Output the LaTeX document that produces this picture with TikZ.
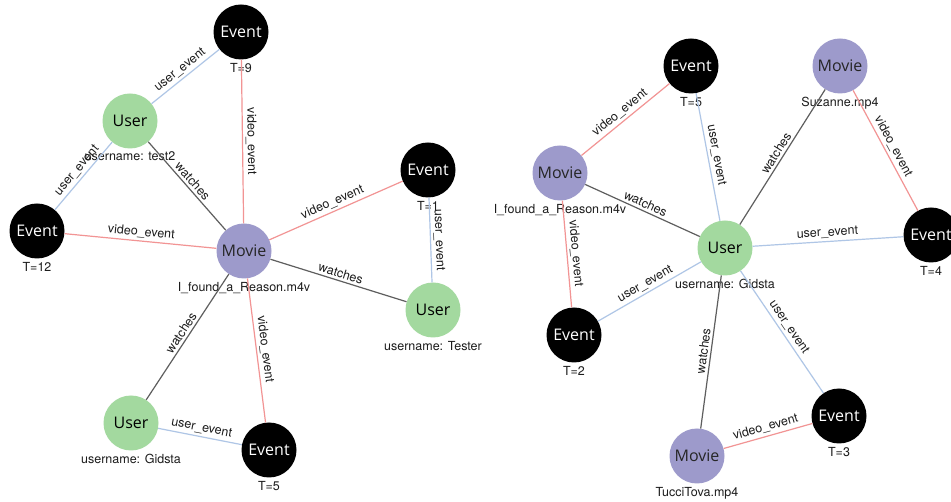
\documentclass[tikz,border=0pt]{standalone}
\usepackage{fontspec}
\setmainfont{TeX Gyre Heros}
\newfontfamily\circfont{Open Sans}
\usepackage{tikz}
\definecolor{usergreen}{HTML}{A3D99F}
\definecolor{moviepurple}{HTML}{9D9ACB}
\definecolor{vidred}{HTML}{F29494}
\definecolor{ublue}{HTML}{AFC6E6}
\definecolor{watchgray}{HTML}{5E5E5E}
\definecolor{txtgray}{HTML}{1C1C1C}

\begin{document}
\begin{tikzpicture}[x=1pt, y=-1pt,
		vertex/.style={circle, minimum size=55pt, inner sep=0pt, font=\circfont\fontsize{16}{16}\selectfont},
		user/.style={vertex, fill=usergreen, text=black},
		movie/.style={vertex, fill=moviepurple, text=black!85},
		event/.style={vertex, fill=black, text=white},
		uev/.style={draw=ublue, line width=1.2pt},
		vev/.style={draw=vidred, line width=1.2pt},
		wat/.style={draw=watchgray, line width=1.2pt},
		elab/.style={font=\fontsize{12.5}{12.5}\selectfont, text=txtgray, sloped, above, midway, inner sep=2.5pt},
		every label/.style={font=\fontsize{12.5}{12.5}\selectfont, text=txtgray, inner sep=1pt},
		label distance=2pt]
			\useasboundingbox (0,0) rectangle (951,502);
			\fill[white] (0,0) rectangle (951,502);

			\node[event, label={below:T=9}] (evnine) at (241,32) {Event};
			\node[user, label={below:username: test2}] (utest) at (130,121) {User};
			\node[event, label={below:T=12}] (evtwelve) at (37,231) {Event};
			\node[movie, label={below:I\_found\_a\_Reason.m4v}] (mreason) at (244,251) {Movie};
			\node[event, label={below:T=1}] (evone) at (428,170) {Event};
			\node[user, label={below:username: Tester}] (utester) at (433,310) {User};
			\node[user, label={below:username: Gidsta}] (ugidsta) at (131,423) {User};
			\node[event, label={below:T=5}] (evfive) at (269,450) {Event};

			\draw[uev] (evnine) -- node[elab] {user\_event} (utest);
			\draw[vev] (evnine) -- node[elab] {video\_event} (mreason);
			\draw[uev] (utest) -- node[elab] {user\_event} (evtwelve);
			\draw[wat] (utest) -- node[elab] {watches} (mreason);
			\draw[vev] (evtwelve) -- node[elab] {video\_event} (mreason);
			\draw[vev] (mreason) -- node[elab] {video\_event} (evone);
			\draw[wat] (mreason) -- node[elab] {watches} (utester);
			\draw[uev] (evone) -- node[elab] {user\_event} (utester);
			\draw[wat] (mreason) -- node[elab] {watches} (ugidsta);
			\draw[vev] (mreason) -- node[elab] {video\_event} (evfive);
			\draw[uev] (ugidsta) -- node[elab] {user\_event} (evfive);

			\node[event, label={below:T=5}] (rfive) at (691,66) {Event};
			\node[movie, label={below:Suzanne.mp4}] (msuz) at (840,66) {Movie};
			\node[movie, label={below:I\_found\_a\_Reason.m4v}] (rreason) at (560,173) {Movie};
			\node[user, label={below:username: Gidsta}] (rgidsta) at (725,248) {User};
			\node[event, label={below:T=4}] (rfour) at (931,235) {Event};
			\node[event, label={below:T=2}] (rtwo) at (574,335) {Event};
			\node[event, label={below:T=3}] (rthree) at (839,416) {Event};
			\node[movie, label={below:TucciTova.mp4}] (mtucci) at (697,456) {Movie};

			\draw[vev] (rreason) -- node[elab] {video\_event} (rfive);
			\draw[uev] (rfive) -- node[elab] {user\_event} (rgidsta);
			\draw[wat] (rreason) -- node[elab] {watches} (rgidsta);
			\draw[vev] (rreason) -- node[elab] {video\_event} (rtwo);
			\draw[uev] (rgidsta) -- node[elab] {user\_event} (rtwo);
			\draw[wat] (rgidsta) -- node[elab] {watches} (msuz);
			\draw[vev] (msuz) -- node[elab] {video\_event} (rfour);
			\draw[uev] (rgidsta) -- node[elab] {user\_event} (rfour);
			\draw[wat] (rgidsta) -- node[elab] {watches} (mtucci);
			\draw[uev] (rgidsta) -- node[elab] {user\_event} (rthree);
			\draw[vev] (mtucci) -- node[elab] {video\_event} (rthree);
		\end{tikzpicture}
\end{document}
